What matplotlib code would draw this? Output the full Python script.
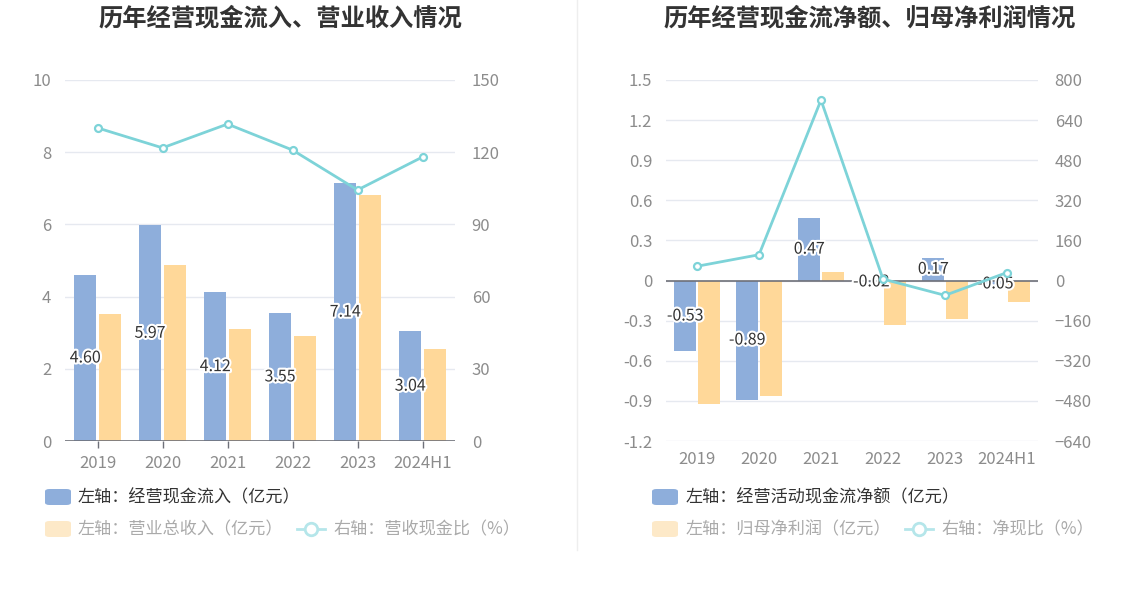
import matplotlib
matplotlib.use("Agg")
import matplotlib.pyplot as plt
import matplotlib.patheffects as pe
from matplotlib.lines import Line2D
from matplotlib.patches import FancyBboxPatch

plt.rcParams['font.family'] = ['Noto Sans CJK SC', 'DejaVu Sans']

years = ["2019", "2020", "2021", "2022", "2023", "2024H1"]

# left chart
cash_in = [4.60, 5.97, 4.12, 3.55, 7.14, 3.04]
revenue = [3.52, 4.88, 3.10, 2.91, 6.81, 2.55]
cash_ratio = [130.1, 121.8, 131.7, 120.9, 104.3, 118.0]

# right chart
net_cash = [-0.53, -0.89, 0.47, -0.02, 0.17, -0.05]
net_profit = [-0.925, -0.866, 0.067, -0.33, -0.29, -0.157]
net_ratio = [57, 103, 720, 6, -59, 32]

BLUE = "#8eaedb"
ORANGE = "#ffd899"
TEAL = "#7dd3d8"
GRID = "#e6e9f0"
TICK = "#8c8c8c"

W, H = 1147, 589
fig = plt.figure(figsize=(W / 100, H / 100), dpi=100)


def px_axes(x0, x1, y0, y1):
    return fig.add_axes([x0 / W, 1 - y1 / H, (x1 - x0) / W, (y1 - y0) / H])


def draw(ax, bars1, bars2, line, ylim, yticks, rlim, rticks, ytfmt, width):
    x = range(len(years))
    ax.set_xlim(-0.5, len(years) - 0.5)
    ax.set_ylim(*ylim)
    ax.set_yticks(yticks)
    ax.set_yticklabels([ytfmt(v) for v in yticks])
    for v in yticks:
        ax.axhline(v, color=GRID, lw=1, zorder=0)
    off = 0.19
    ax.bar([i - off for i in x], bars1, width=width, color=BLUE, zorder=2)
    ax.bar([i + off for i in x], bars2, width=width, color=ORANGE, zorder=2)
    ax.axhline(0, color="#6e7079", lw=1.2, zorder=3)
    for i, v in enumerate(bars1):
        ax.text(i - off, v / 2, f"{v:.2f}", ha="center", va="center", fontsize=11.5,
                color="#333333", zorder=6,
                path_effects=[pe.withStroke(linewidth=3, foreground="white")])
    for s in ax.spines.values():
        s.set_visible(False)
    ax.set_xticks(list(x))
    ax.set_xticklabels(years)
    ax.tick_params(axis="x", colors="#6e7079", length=5, width=1, pad=5,
                   labelcolor=TICK, labelsize=12, direction="out")
    ax.tick_params(axis="y", length=0, pad=10, labelcolor=TICK, labelsize=12)
    ax2 = ax.twinx()
    ax2.set_ylim(*rlim)
    ax2.set_yticks(rticks)
    ax2.plot(list(x), line, color=TEAL, lw=2, marker="o", markersize=5,
             markerfacecolor="white", markeredgecolor=TEAL, markeredgewidth=1.6, zorder=5)
    for s in ax2.spines.values():
        s.set_visible(False)
    ax2.tick_params(axis="y", length=0, pad=12, labelcolor=TICK, labelsize=12)
    return ax2


ax1 = px_axes(65, 455, 80, 441)
r1 = draw(ax1, cash_in, revenue, cash_ratio, (0, 10), [0, 2, 4, 6, 8, 10],
          (0, 150), [0, 30, 60, 90, 120, 150], lambda v: f"{v:g}", 0.34)
ax1.xaxis.set_ticks_position("bottom")

ax2 = px_axes(666, 1038, 80, 441)
yt = [-1.2, -0.9, -0.6, -0.3, 0, 0.3, 0.6, 0.9, 1.2, 1.5]
r2 = draw(ax2, net_cash, net_profit, net_ratio, (-1.2, 1.5), yt,
          (-640, 800), [-640, -480, -320, -160, 0, 160, 320, 480, 640, 800],
          lambda v: "0" if v == 0 else f"{v:.1f}", 0.35)
# x tick labels at bottom of plot area for right chart
ax2.tick_params(axis="x", length=0, pad=7)
ax2.xaxis.set_ticks_position("bottom")

fig.text(280 / W, 1 - 18 / H, "历年经营现金流入、营业收入情况", ha="center", va="center",
         fontsize=17.5, fontweight="bold", color="#333333")
fig.text(870 / W, 1 - 18 / H, "历年经营现金流净额、归母净利润情况", ha="center", va="center",
         fontsize=17.5, fontweight="bold", color="#333333")

fig.add_artist(Line2D([577 / W, 577 / W], [1 - 550 / H, 1.0], color="#eeeeee", lw=1))


def legend_patch(x, y, color):
    fig.add_artist(FancyBboxPatch((x / W, 1 - (y + 8) / H), 26 / W, 16 / H,
                                  boxstyle="round,pad=0,rounding_size=0.004",
                                  facecolor=color, edgecolor="none", transform=fig.transFigure))


def legend_line(x, y):
    fig.add_artist(Line2D([x / W, (x + 28) / W], [1 - y / H, 1 - y / H], color="#b5e6ea", lw=2))
    fig.add_artist(Line2D([(x + 14) / W], [1 - y / H], color="#b5e6ea", marker="o",
                          markersize=9, markerfacecolor="white", markeredgewidth=2))


def legend_text(x, y, s, c):
    fig.text(x / W, 1 - y / H, s, ha="left", va="center", fontsize=12.3, color=c)


legend_patch(45, 497, BLUE)
legend_text(78, 497, "左轴：经营现金流入（亿元）", "#333333")
legend_patch(45, 529, "#fde9c8")
legend_text(78, 529, "左轴：营业总收入（亿元）", "#aaaaaa")
legend_line(297, 529)
legend_text(333, 529, "右轴：营收现金比（%）", "#aaaaaa")

legend_patch(652, 497, BLUE)
legend_text(686, 497, "左轴：经营活动现金流净额（亿元）", "#333333")
legend_patch(652, 529, "#fde9c8")
legend_text(686, 529, "左轴：归母净利润（亿元）", "#aaaaaa")
legend_line(905, 529)
legend_text(941, 529, "右轴：净现比（%）", "#aaaaaa")

fig.savefig("out.png", dpi=100, facecolor="white")
